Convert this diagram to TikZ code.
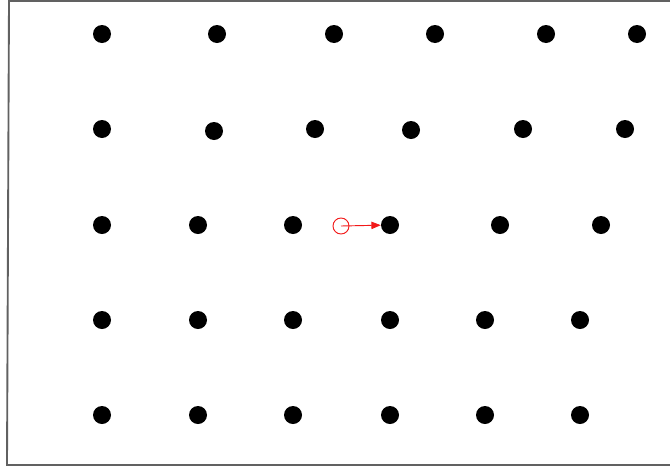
\documentclass[tikz,border=0pt]{standalone}
\usepackage{tikz}
\usetikzlibrary{arrows.meta}
\definecolor{framegray}{rgb}{0.38,0.38,0.38}
\definecolor{ghostred}{rgb}{0.95,0.1,0.1}

\begin{document}
\begin{tikzpicture}[
    x=0.03cm, y=-0.03cm,
    dot/.style={
        circle,
        fill=black,
        inner sep=0pt,
        minimum size=0.54cm
    },
    ghost/.style={
        circle,
        draw=ghostred,
        line width=0.8pt,
        inner sep=0pt,
        minimum size=0.48cm
    },
    arrow/.style={
        -{Triangle[length=0.28cm, width=0.22cm]},
        line width=0.8pt,
        color=ghostred
    },
    frame/.style={
        draw=framegray,
        line width=1.6pt
    }
]

\useasboundingbox (0,0) rectangle (670,471);

% frame
\draw[frame] (672,1) -- (9,1) -- (7,465) -- (672,465);

% row 1
\node[dot] (a1) at (102,34)  {};
\node[dot] (a2) at (217,34)  {};
\node[dot] (a3) at (334,34)  {};
\node[dot] (a4) at (435,34)  {};
\node[dot] (a5) at (546,34)  {};
\node[dot] (a6) at (637,34)  {};

% row 2
\node[dot] (b1) at (102,129) {};
\node[dot] (b2) at (214,131) {};
\node[dot] (b3) at (315,129) {};
\node[dot] (b4) at (411,130) {};
\node[dot] (b5) at (523,129) {};
\node[dot] (b6) at (625,129) {};

% row 3
\node[dot] (c1) at (102,225) {};
\node[dot] (c2) at (198,225) {};
\node[dot] (c3) at (293,225) {};
\node[dot] (c4) at (390,225) {};
\node[dot] (c5) at (500,225) {};
\node[dot] (c6) at (601,225) {};

% row 4
\node[dot] (d1) at (102,320) {};
\node[dot] (d2) at (198,320) {};
\node[dot] (d3) at (293,320) {};
\node[dot] (d4) at (390,320) {};
\node[dot] (d5) at (485,320) {};
\node[dot] (d6) at (580,320) {};

% row 5
\node[dot] (e1) at (102,415) {};
\node[dot] (e2) at (198,415) {};
\node[dot] (e3) at (293,415) {};
\node[dot] (e4) at (390,415) {};
\node[dot] (e5) at (485,415) {};
\node[dot] (e6) at (580,415) {};

% moved point
\node[ghost] (old) at (341,226) {};
\draw[arrow] (old.center) -- (c4);

\end{tikzpicture}
\end{document}
